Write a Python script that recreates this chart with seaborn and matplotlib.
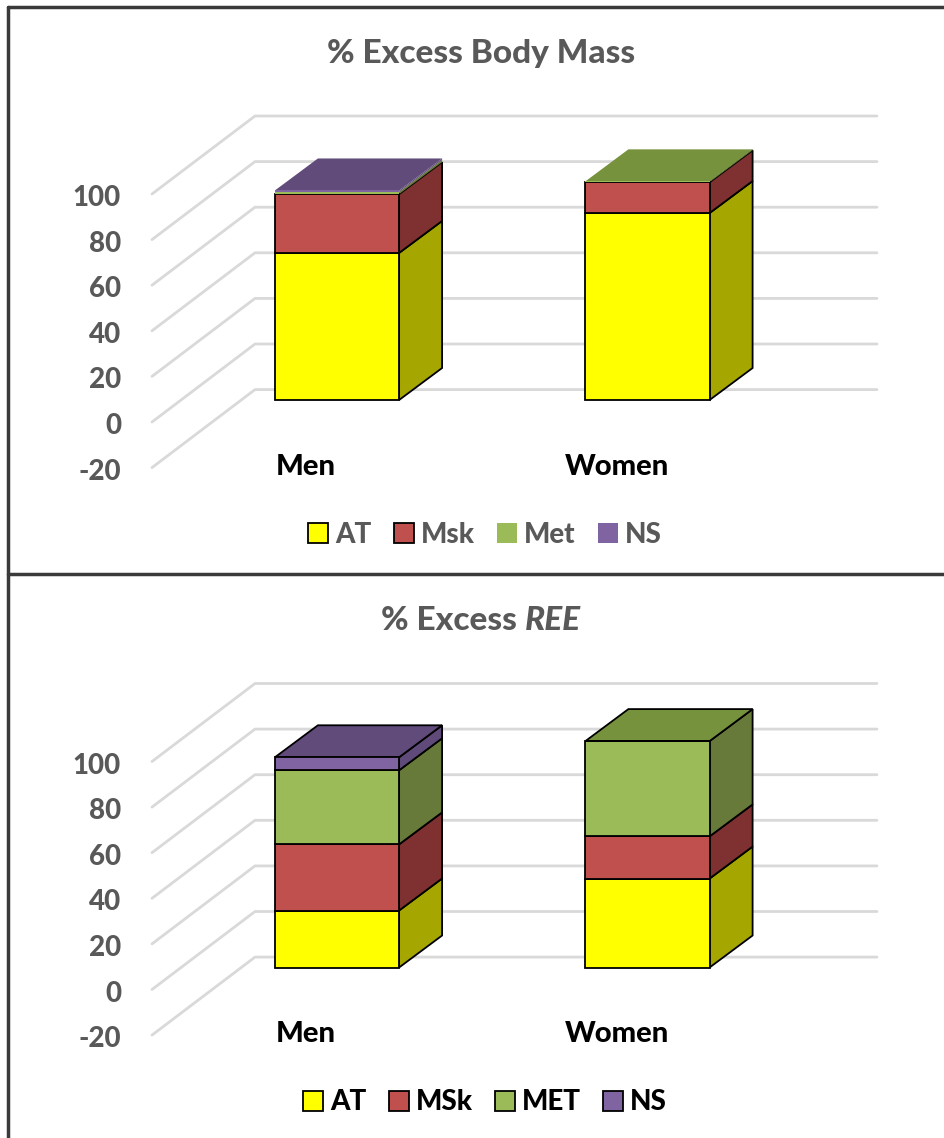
import numpy as np
import matplotlib
matplotlib.use("Agg")
import matplotlib.pyplot as plt
from matplotlib.patches import Polygon, Patch
from matplotlib.lines import Line2D
import seaborn as sns

# ---------------- data ----------------
categories = ["Men", "Women"]
y_ticks = [-20, 0, 20, 40, 60, 80, 100]

mass_title = "% Excess Body Mass"
mass_labels = ["AT", "Msk", "Met", "NS"]
mass_AT = [64.5, 82.0]
mass_Msk = [25.8, 13.5]
mass_Met = [1.0, 0.4]
mass_NS = [0.6, 0.0]

ree_title_plain = "% Excess"
ree_title_italic = "REE"
ree_labels = ["AT", "MSk", "MET", "NS"]
ree_AT = [25.0, 39.0]
ree_MSk = [29.0, 18.5]
ree_MET = [32.5, 41.8]
ree_NS = [5.7, 0.0]

# ---------------- style ----------------
sns.set_style("white")
plt.rcParams["font.family"] = ["Lato", "DejaVu Sans"]
FW = 900

FRONT = ["#FFFF00", "#C0504D", "#9BBB59", "#8064A2"]
SIDE = ["#A6A600", "#7E3130", "#677A3A", "#5F4A7A"]
TOP = ["#CCCC00", "#9A3E3B", "#77923C", "#614B7B"]
GRAY = "#595959"
GRID = "#D9D9D9"

W, H = 945, 1138
SX, SY = 310.5, 2.28          # px per data unit
X0, Y0 = 337.0, 400.0         # px of (Men, 0) in panel coords
PANEL_H = 567.5


def dx(p):
    return p / SX


def dy(p):
    return p / SY


fig = plt.figure(figsize=(W / 100, H / 100), dpi=100)
ax_top = fig.add_axes([0, 1 - PANEL_H / H, 1, PANEL_H / H])
ax_bot = fig.add_axes([0, 1 - 2 * PANEL_H / H, 1, PANEL_H / H])


def draw_panel(ax, labels, values, edges, text_color, legend_color):
    # walls / gridlines
    x_wall = dx(181 - X0)
    fdx, fdy = dx(-29), dy(-22)
    bdx, bdy = dx(74), dy(56)
    x_end = dx(877 - X0)
    for v in y_ticks:
        ax.plot([x_wall + fdx, x_wall + bdx, x_end], [v + fdy, v + bdy, v + bdy],
                color=GRID, lw=2, zorder=0, solid_capstyle="round")
        ax.text(dx(121 - X0), v + fdy - dy(12), f"{v}", ha="right", va="baseline",
                fontsize=20, fontweight=FW, color=GRAY)

    ddx, ddy = dx(43), dy(32)
    cum = np.zeros(len(categories))
    top_info = [None] * len(categories)
    for i, (lab, vals, edg) in enumerate(zip(labels, values, edges)):
        n0 = len(ax.patches)
        sns.barplot(x=categories, y=vals, bottom=cum, color=FRONT[i], saturation=1,
                    width=0.4, edgecolor="black" if edg else "none",
                    linewidth=1.3, ax=ax, zorder=3)
        for j, p in enumerate(ax.patches[n0:]):
            x, w, y, h = p.get_x(), p.get_width(), p.get_y(), p.get_height()
            if h > 0:
                side = Polygon([(x + w, y), (x + w + ddx, y + ddy),
                                (x + w + ddx, y + h + ddy), (x + w, y + h)],
                               closed=True, facecolor=SIDE[i],
                               edgecolor="black" if edg else "none", lw=1.3, zorder=2)
                ax.add_patch(side)
                top_info[j] = (x, w, y + h, i, edg)
        cum = cum + np.asarray(vals)

    for info in top_info:
        x, w, t, i, edg = info
        topf = Polygon([(x, t), (x + ddx, t + ddy), (x + w + ddx, t + ddy), (x + w, t)],
                       closed=True, facecolor=TOP[i],
                       edgecolor="black" if edg else "none", lw=1.3, zorder=2)
        ax.add_patch(topf)

    # category labels
    for k, c in enumerate(categories):
        ax.text(k - dx(31), dy(-75), c, ha="center", va="baseline",
                fontsize=21, fontweight=FW, color="black")

    handles = [Patch(facecolor=FRONT[i], edgecolor="black" if edges[i] else "none",
                     lw=1.3) for i in range(len(labels))]
    ax.legend(handles, labels, loc="center", bbox_to_anchor=(485 / W, 1 - 535 / PANEL_H),
              ncol=4, frameon=False, handlelength=0.72, handleheight=0.72,
              handletextpad=0.25, columnspacing=0.8,
              prop=dict(weight=FW, size=20), labelcolor=legend_color)

    ax.set_xlim(dx(0 - X0), dx(W - X0))
    ax.set_ylim(dy(Y0 - PANEL_H), dy(Y0))
    ax.set_axis_off()


draw_panel(ax_top, mass_labels, [mass_AT, mass_Msk, mass_Met, mass_NS],
           [True, True, False, False], GRAY, GRAY)
draw_panel(ax_bot, ree_labels, [ree_AT, ree_MSk, ree_MET, ree_NS],
           [True, True, True, True], GRAY, "black")

# titles
title_y = dy(Y0 - 63)
ax_top.text(dx(481 - X0), title_y, mass_title, ha="center", va="baseline",
            fontsize=24, fontweight=FW, color=GRAY)

t1 = ax_bot.text(0, title_y, ree_title_plain, ha="left", va="baseline",
                 fontsize=24, fontweight=FW, color=GRAY)
t2 = ax_bot.text(0, title_y, ree_title_italic, ha="left", va="baseline",
                 fontsize=24, fontweight=FW, style="italic", color=GRAY)
r = fig.canvas.get_renderer()
w1 = t1.get_window_extent(r).width
w2 = t2.get_window_extent(r).width
gap = 24 * 100 / 72 * 0.25
left = 481 - (w1 + gap + w2) / 2
t1.set_x(dx(left - X0))
t2.set_x(dx(left + w1 + gap - X0))

# frame lines
fc = "#3A3A3A"
fig.add_artist(Line2D([8 / W, 8 / W], [1 - 7 / H, 0], transform=fig.transFigure, color=fc, lw=2.5))
fig.add_artist(Line2D([8 / W, 1], [1 - 7 / H, 1 - 7 / H], transform=fig.transFigure, color=fc, lw=2.5))
fig.add_artist(Line2D([8 / W, 1], [1 - 574 / H, 1 - 574 / H], transform=fig.transFigure, color=fc, lw=2.5))

fig.savefig("out.png", dpi=100)
